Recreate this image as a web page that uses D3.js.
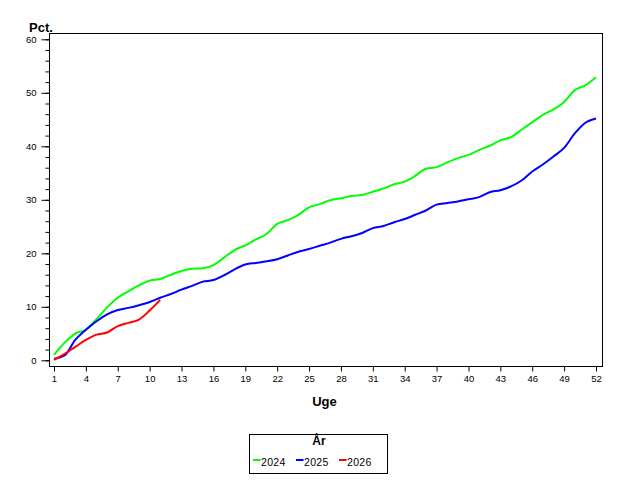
<!DOCTYPE html>
<html>
<head>
<meta charset="utf-8">
<script src="https://cdn.jsdelivr.net/npm/d3@7"></script>
<style>
  body { margin: 0; background: #fff; }
  svg { display: block; font-family: "Liberation Sans", Arial, sans-serif; }
</style>
</head>
<body>
<svg id="chart" width="640" height="480"></svg>
<script>
'use strict';

// weeks shown on the x axis
var weeks = d3.range(1, 53);
var xTicks = [1, 4, 7, 10, 13, 16, 19, 22, 25, 28, 31, 34, 37, 40, 43, 46, 49, 52];
var yTicks = [0, 10, 20, 30, 40, 50, 60];

// cumulative pct. per week
var y2024 = [1.0, 3.3, 5.0, 5.7, 7.7, 9.9, 11.7, 12.9, 14.0, 14.9, 15.2, 16.0, 16.7, 17.1, 17.2, 17.8,
  19.2, 20.6, 21.5, 22.6, 23.6, 25.5, 26.2, 27.2, 28.6, 29.2, 29.9, 30.3, 30.7, 30.9, 31.5, 32.1,
  32.9, 33.4, 34.5, 35.8, 36.1, 37.0, 37.8, 38.4, 39.3, 40.1, 41.1, 41.7, 43.1, 44.5, 45.9, 46.9,
  48.3, 50.5, 51.4, 52.9];
var y2025 = [0.3, 0.9, 3.8, 5.7, 7.3, 8.6, 9.4, 9.8, 10.3, 10.9, 11.7, 12.4, 13.2, 13.9, 14.7, 15.0,
  15.9, 17.0, 17.9, 18.2, 18.5, 18.9, 19.6, 20.3, 20.8, 21.4, 22.0, 22.7, 23.2, 23.8, 24.7, 25.1,
  25.8, 26.4, 27.2, 28.0, 29.1, 29.4, 29.7, 30.1, 30.5, 31.4, 31.8, 32.5, 33.6, 35.3, 36.6, 38.1,
  39.7, 42.4, 44.4, 45.2];
var y2026 = [0.1, 1.2, 2.5, 3.8, 4.8, 5.2, 6.4, 7.0, 7.6, 9.3, 11.3];

var series = [
  {name: '2024', color: '#00ff00', values: y2024},
  {name: '2025', color: '#0000ff', values: y2025},
  {name: '2026', color: '#ff0000', values: y2026}
];

var svg = d3.select('#chart');

var x = d3.scaleLinear().domain([1, 52]).range([54, 596]);
var y = d3.scaleLinear().domain([0, 60]).range([360.3, 39.3]);

// frame
svg.append('rect')
  .attr('x', 49.5).attr('y', 33.5)
  .attr('width', 553).attr('height', 333)
  .attr('fill', 'none').attr('stroke', '#000').attr('stroke-width', 1);

// y axis, minor ticks first
svg.append('g')
  .attr('transform', 'translate(49.5,0)')
  .call(d3.axisLeft(y).tickValues(d3.range(0, 61, 2)).tickSize(4).tickFormat(''))
  .call(g => g.select('.domain').remove());

svg.append('g')
  .attr('transform', 'translate(49.5,0)')
  .call(d3.axisLeft(y).tickValues(yTicks).tickSize(8).tickPadding(5))
  .call(g => g.select('.domain').remove())
  .selectAll('text').style('font-size', '9.5px').attr('font-family', null);

svg.append('g')
  .attr('transform', 'translate(0,366.5)')
  .call(d3.axisBottom(x).tickValues(xTicks).tickSize(5).tickPadding(4))
  .call(g => g.select('.domain').remove())
  .selectAll('text').style('font-size', '9.5px').attr('font-family', null);

svg.selectAll('.tick line').attr('stroke', '#000');
svg.selectAll('.tick text').attr('fill', '#000');

// lines
var line = d3.line()
  .x(function(d, i) { return x(weeks[i]); })
  .y(function(d) { return y(d); })
  .curve(d3.curveMonotoneX);

svg.selectAll('path.serie')
  .data(series)
  .enter()
  .append('path')
  .attr('class', 'serie')
  .attr('d', function(d) { return line(d.values); })
  .attr('fill', 'none')
  .attr('stroke', function(d) { return d.color; })
  .attr('stroke-width', 2);

// axis titles
svg.append('text')
  .attr('x', 29).attr('y', 32)
  .style('font-size', '13px').style('font-weight', 'bold')
  .text('Pct.');

svg.append('text')
  .attr('x', 324.5).attr('y', 406)
  .attr('text-anchor', 'middle')
  .style('font-size', '13px').style('font-weight', 'bold')
  .text('Uge');

// legend
var legend = svg.append('g');
legend.append('rect')
  .attr('x', 249.5).attr('y', 434.5)
  .attr('width', 138).attr('height', 39)
  .attr('fill', 'none').attr('stroke', '#000');

legend.append('text')
  .attr('x', 319).attr('y', 445)
  .attr('text-anchor', 'middle')
  .style('font-size', '12px').style('font-weight', 'bold')
  .text('År');

var item = legend.selectAll('g.item')
  .data(series)
  .enter()
  .append('g')
  .attr('class', 'item')
  .attr('transform', function(d, i) { return 'translate(' + (253 + i * 43) + ',0)'; });

item.append('line')
  .attr('x1', 0).attr('x2', 7.5)
  .attr('y1', 460).attr('y2', 460)
  .attr('stroke', function(d) { return d.color; })
  .attr('stroke-width', 2);

item.append('text')
  .attr('x', 8).attr('y', 465.5)
  .style('font-size', '10.5px')
  .style('letter-spacing', '0.3px')
  .text(function(d) { return d.name; });
</script>
</body>
</html>
